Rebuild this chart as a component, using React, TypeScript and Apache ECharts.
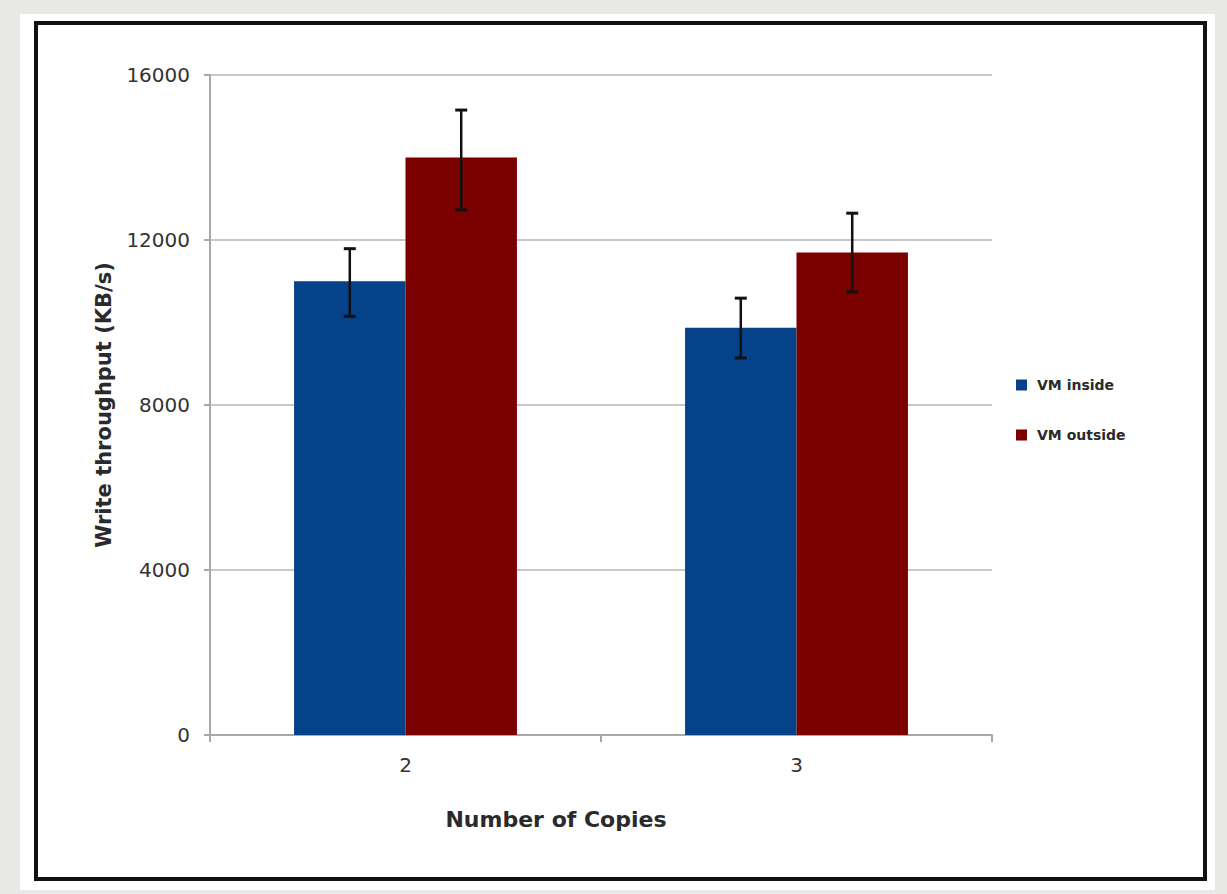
import React, { useEffect, useRef } from "react";
import * as echarts from "echarts";

const categories = ["2", "3"];
const seriesNames = ["VM inside", "VM outside"];
const insideValues = [11000, 9870];
const outsideValues = [14000, 11700];
const insideErrLow = [10150, 9140];
const insideErrHigh = [11790, 10590];
const outsideErrLow = [12730, 10740];
const outsideErrHigh = [15150, 12650];
const yTicks = { min: 0, max: 16000, interval: 4000 };

const colors = ["#05428a", "#7b0000"];
const FONT = "DejaVu Sans, Liberation Sans, Arial, sans-serif";

function errorSeries(idx: number, low: number[], high: number[]) {
  const data = categories.map((c, i) => [i, low[i], high[i]]);
  return {
    type: "custom",
    name: seriesNames[idx] + " error",
    z: 10,
    silent: true,
    data,
    encode: { x: 0, y: [1, 2] },
    renderItem: (params: any, api: any) => {
      const ci = api.value(0);
      const lo = api.coord([ci, api.value(1)]);
      const hi = api.coord([ci, api.value(2)]);
      const catW = api.size([1, 0])[0];
      const barW = catW * 0.285;
      const off = idx === 0 ? -barW / 2 : barW / 2;
      const x = lo[0] + off;
      const cap = 6;
      const style = { stroke: "#111", lineWidth: 2.5 };
      return {
        type: "group",
        children: [
          { type: "line", shape: { x1: x, y1: hi[1], x2: x, y2: lo[1] }, style },
          { type: "line", shape: { x1: x - cap, y1: hi[1], x2: x + cap, y2: hi[1] }, style: { stroke: "#111", lineWidth: 3 } },
          { type: "line", shape: { x1: x - cap, y1: lo[1], x2: x + cap, y2: lo[1] }, style: { stroke: "#111", lineWidth: 3 } },
        ],
      };
    },
  };
}

export default function App() {
  const ref = useRef<HTMLDivElement>(null);
  useEffect(() => {
    if (!ref.current) return;
    const chart = echarts.init(ref.current, undefined, { renderer: "svg" });
    chart.setOption({
      animation: false,
      backgroundColor: "#e8e8e6",
      textStyle: { fontFamily: FONT },
      graphic: [
        {
          type: "rect",
          z: -10,
          shape: { x: 20, y: 14, width: 1195, height: 876 },
          style: { fill: "#ffffff" },
        },
        {
          type: "rect",
          z: -9,
          shape: { x: 36, y: 23, width: 1169, height: 856 },
          style: { fill: "#ffffff", stroke: "#111111", lineWidth: 4 },
        },
        {
          type: "text",
          x: 556,
          y: 819,
          style: {
            text: "Number of Copies",
            font: "bold 22px " + FONT,
            fill: "#2a2a2a",
            align: "center",
            verticalAlign: "middle",
          },
        },
      ],
      grid: { left: 210, right: 235, top: 75, bottom: 159, containLabel: false },
      legend: {
        orient: "vertical",
        left: 1011,
        top: 373,
        itemGap: 36,
        itemWidth: 11,
        itemHeight: 11,
        icon: "rect",
        data: seriesNames,
        textStyle: { fontSize: 14, fontWeight: "bold", color: "#2a2a2a", padding: [0, 0, 0, 5] },
      },
      xAxis: {
        type: "category",
        data: categories,
        axisLine: { lineStyle: { color: "#a8a8a8", width: 2 } },
        axisTick: { show: true, length: 7, alignWithLabel: false, lineStyle: { color: "#a8a8a8", width: 2 } },
        axisLabel: { fontSize: 20, color: "#333", margin: 20 },
        splitLine: { show: false },
      },
      yAxis: {
        type: "value",
        min: yTicks.min,
        max: yTicks.max,
        interval: yTicks.interval,
        name: "Write throughput (KB/s)",
        nameLocation: "middle",
        nameGap: 96,
        nameRotate: 90,
        nameTextStyle: { fontSize: 21, fontWeight: "bold", color: "#2a2a2a" },
        axisLine: { show: true, lineStyle: { color: "#a8a8a8", width: 2 } },
        axisTick: { show: true, length: 6, lineStyle: { color: "#a8a8a8", width: 2 } },
        axisLabel: { fontSize: 20, color: "#333", margin: 20, formatter: (v: number) => String(v) },
        splitLine: { show: true, lineStyle: { color: "#c8c8c8", width: 2 } },
      },
      series: [
        {
          type: "bar",
          name: seriesNames[0],
          data: insideValues,
          barWidth: "28.5%",
          barGap: "0%",
          itemStyle: { color: colors[0] },
        },
        {
          type: "bar",
          name: seriesNames[1],
          data: outsideValues,
          barWidth: "28.5%",
          barGap: "0%",
          itemStyle: { color: colors[1] },
        },
        errorSeries(0, insideErrLow, insideErrHigh),
        errorSeries(1, outsideErrLow, outsideErrHigh),
      ],
    });
    return () => chart.dispose();
  }, []);
  return (
    <div
      ref={ref}
      style={{ position: "fixed", left: 0, top: 0, width: 1227, height: 894 }}
    />
  );
}
